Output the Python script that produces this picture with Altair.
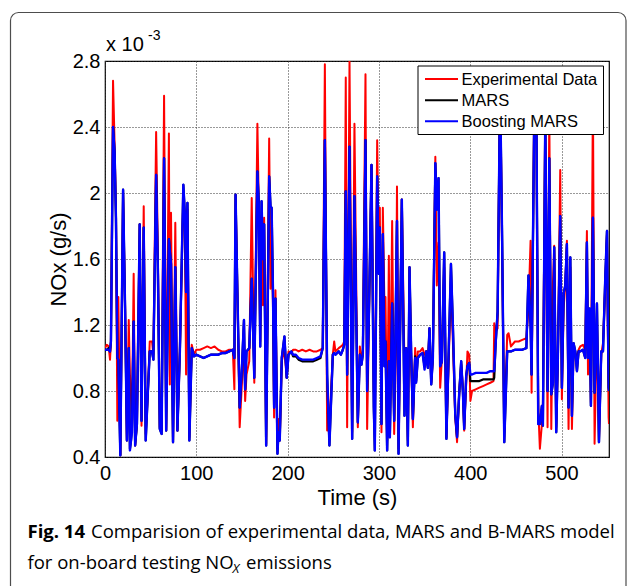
import altair as alt
import pandas as pd

# ---------------- data (NOx in units of 1e-3 g/s) ----------------
time_s = [0, 2, 4, 5.5, 6.5, 8.8, 10.5, 12, 13.5, 14.6, 16.8, 19.8, 22, 24, 26, 27.3, 28.5, 29.5, 31.4, 33,
          35, 38, 40, 42.4, 44.6, 47, 49, 51.5, 53, 56, 58, 60, 62, 64.7, 67, 70, 71, 72.3, 74.5, 77,
          79.3, 82, 85.8, 87.5, 88.8, 90.3, 92.4, 95, 97.5, 100, 104, 108, 112, 116, 120, 124, 128, 132, 136, 140,
          141.7, 143, 145, 147.5, 150, 152.2, 153.5, 155, 158, 160.7, 163.5, 166.9, 168.5, 170, 171.5, 173, 174.3, 176.5, 179.8, 181.3,
          182.5, 184, 185.2, 186.7, 188.9, 190, 191.4, 193.6, 196.5, 199, 201, 204, 206, 209, 212, 216, 220, 224, 228, 232,
          236, 238.5, 240.8, 243.3, 245.8, 249.5, 251, 252.4, 256, 258.3, 260.5, 262, 263.7, 265.2, 267.8, 270.7, 273.2, 276.9, 279.1, 280.9,
          282.4, 285.3, 287.1, 289, 291.9, 294.4, 295.5, 298.1, 299.9, 301, 302.8, 304.3, 306.1, 307.2, 309, 310.9, 312, 314.5, 316.7, 318.5,
          319.8, 321.5, 325.1, 328, 329.9, 331.7, 333.5, 335.3, 337.2, 339.7, 340.8, 342.6, 345.2, 347.8, 350, 351.8, 353.6, 355.4, 357.3, 359.1,
          361.8, 363.4, 365.3, 367.1, 369, 371.5, 373.9, 376, 378.9, 381, 383.6, 385.6, 388, 390.1, 392, 393.4, 395.6, 397, 398.9, 400.2,
          402, 406, 410, 414, 418, 422, 425.5, 426.3, 428, 430, 432.7, 435, 437.3, 440.5, 442, 444.6, 449, 453, 457, 461.5,
          463.8, 466.1, 467.2, 470, 472.3, 474.5, 476.3, 478.5, 479.6, 482.2, 484.7, 486.6, 488.8, 490.6, 492, 494.2, 496, 498.6, 500.4, 502.3,
          504.1, 505.9, 507.7, 509.6, 511.4, 513.2, 515.1, 516.9, 518.7, 520.5, 523.5, 526, 527.8, 529, 530.8, 532.2, 534.4, 536.2, 538.8, 541,
          543.5, 545.4, 548, 549.8, 551.6, 552]

experimental = [1.06, 1.08, 1.07, 0.99, 1.10, 2.68, 2.30, 1.90, 0.62, 1.37, 0.41, 2.00, 1.30, 0.50, 1.23, 0.90, 0.77, 0.60, 1.51, 0.47,
                0.60, 1.81, 0.59, 1.92, 0.54, 0.80, 1.10, 1.10, 1.02, 2.37, 1.60, 0.58, 0.56, 2.59, 0.56, 2.36, 0.84, 1.88, 0.49, 1.82,
                0.56, 1.04, 1.98, 1.80, 0.90, 1.90, 0.52, 1.08, 1.02, 1.05, 1.05, 1.06, 1.07, 1.06, 1.07, 1.05, 1.04, 1.04, 1.05, 1.05,
                0.81, 1.99, 1.40, 0.58, 0.85, 1.10, 0.74, 0.90, 0.98, 1.97, 0.85, 2.42, 1.90, 1.10, 1.86, 1.32, 1.85, 0.48, 2.33, 1.42,
                1.75, 1.30, 0.64, 1.41, 0.45, 0.63, 0.50, 0.98, 1.05, 0.88, 1.04, 1.03, 1.05, 1.05, 1.04, 1.05, 1.04, 1.05, 1.04, 1.04,
                1.05, 1.06, 2.78, 0.56, 0.60, 1.02, 1.10, 1.04, 1.06, 1.07, 1.08, 1.10, 2.70, 0.58, 2.80, 0.55, 2.42, 0.58, 1.07, 0.98,
                1.05, 2.72, 0.57, 1.20, 2.17, 0.82, 0.60, 2.32, 1.55, 1.91, 0.55, 1.91, 1.30, 1.37, 0.50, 1.62, 0.60, 1.83, 0.54, 1.00,
                2.04, 0.45, 1.96, 0.95, 1.06, 0.50, 1.55, 1.00, 0.58, 1.06, 0.88, 1.04, 1.04, 1.06, 1.02, 1.04, 0.95, 1.18, 0.85, 1.00,
                2.22, 1.44, 1.70, 0.82, 1.00, 1.55, 0.52, 0.90, 1.45, 1.10, 0.64, 0.49, 0.80, 0.96, 0.82, 0.56, 0.85, 1.04, 1.02, 0.74,
                0.80, 0.81, 0.82, 0.83, 0.84, 0.85, 0.86, 1.21, 1.16, 1.18, 2.75, 1.60, 0.55, 1.14, 1.15, 1.07, 1.10, 1.10, 1.11, 1.12,
                1.30, 1.71, 0.79, 2.50, 2.60, 0.70, 0.45, 0.60, 0.72, 2.50, 0.58, 2.50, 0.57, 1.45, 1.68, 0.58, 1.00, 2.14, 0.75, 1.30,
                1.44, 1.71, 0.57, 1.55, 0.57, 1.05, 1.03, 1.00, 1.05, 1.07, 1.08, 1.05, 1.77, 0.90, 1.20, 0.73, 2.60, 0.48, 1.20, 0.50,
                1.02, 1.09, 1.45, 1.75, 0.64, 0.60]

mars = [1.05, 1.05, 1.06, 1.04, 1.10, 2.40, 2.25, 1.85, 1.00, 0.99, 0.41, 2.02, 1.30, 0.50, 1.06, 0.45, 0.50, 0.58, 1.22, 0.47,
        0.60, 1.81, 0.62, 1.79, 0.50, 0.80, 1.04, 1.04, 0.99, 2.11, 1.50, 0.57, 0.54, 2.21, 0.56, 1.72, 1.65, 1.57, 0.49, 1.55,
        0.56, 1.04, 2.05, 1.87, 1.40, 1.94, 0.50, 1.06, 1.01, 1.02, 1.01, 1.00, 1.01, 1.02, 1.02, 1.02, 1.03, 1.03, 1.04, 1.05,
        1.00, 1.99, 1.40, 0.70, 0.95, 1.23, 0.81, 1.04, 1.06, 1.48, 0.88, 2.13, 1.93, 1.07, 1.95, 1.60, 1.81, 0.47, 2.10, 1.92,
        1.91, 1.40, 0.70, 1.36, 0.42, 0.55, 0.50, 1.00, 1.13, 0.88, 1.02, 1.04, 1.01, 1.01, 0.99, 0.98, 0.98, 0.98, 0.98, 0.99,
        1.00, 1.06, 2.32, 0.90, 0.47, 1.02, 1.03, 1.02, 1.04, 1.02, 1.05, 1.08, 2.01, 0.90, 2.28, 0.51, 1.98, 0.61, 1.02, 0.96,
        1.02, 2.32, 0.80, 1.25, 2.17, 0.70, 0.44, 2.10, 1.51, 1.79, 0.60, 1.75, 0.95, 1.10, 0.44, 0.98, 0.52, 1.33, 0.62, 1.30,
        1.83, 0.42, 1.96, 0.65, 1.06, 0.47, 1.55, 1.04, 0.63, 1.01, 0.86, 1.00, 1.02, 1.03, 0.95, 1.04, 0.94, 1.18, 0.84, 1.00,
        2.18, 1.90, 2.09, 0.95, 0.98, 1.64, 0.51, 0.95, 1.57, 1.20, 0.66, 0.52, 0.79, 0.98, 0.79, 0.57, 0.89, 0.95, 0.97, 0.86,
        0.86, 0.86, 0.86, 0.87, 0.87, 0.87, 0.87, 0.88, 1.10, 1.28, 2.66, 1.70, 0.49, 1.04, 1.04, 1.04, 1.05, 1.05, 1.05, 1.06,
        1.50, 1.20, 0.90, 2.40, 2.65, 0.60, 0.60, 0.71, 0.59, 2.45, 0.80, 2.21, 0.78, 0.85, 1.67, 0.55, 1.00, 1.86, 0.82, 1.39,
        1.44, 1.69, 0.70, 1.61, 0.65, 1.09, 1.04, 0.92, 1.04, 1.04, 1.05, 1.00, 1.70, 1.00, 1.30, 0.71, 1.85, 0.79, 1.33, 0.49,
        1.04, 1.04, 1.50, 1.77, 0.82, 0.80]

boosting_mars = [1.05, 1.05, 1.05, 1.04, 1.10, 2.40, 2.25, 1.85, 1.00, 0.99, 0.41, 2.02, 1.30, 0.50, 1.06, 0.44, 0.50, 0.55, 1.22, 0.47,
                 0.60, 1.81, 0.62, 1.79, 0.50, 0.80, 1.04, 1.04, 0.99, 2.11, 1.50, 0.57, 0.54, 2.21, 0.56, 1.72, 1.65, 1.57, 0.49, 1.55,
                 0.56, 1.04, 2.05, 1.87, 1.40, 1.94, 0.50, 1.06, 1.01, 1.02, 1.01, 1.00, 1.01, 1.02, 1.02, 1.02, 1.03, 1.03, 1.04, 1.05,
                 1.00, 1.99, 1.40, 0.70, 0.95, 1.23, 0.81, 1.04, 1.06, 1.48, 0.88, 2.13, 1.93, 1.07, 1.95, 1.60, 1.81, 0.47, 2.10, 1.92,
                 1.91, 1.40, 0.70, 1.36, 0.42, 0.55, 0.50, 1.00, 1.13, 0.88, 1.02, 1.04, 1.02, 1.02, 1.00, 0.99, 0.99, 0.99, 0.99, 1.00,
                 1.01, 1.06, 2.32, 0.90, 0.47, 1.02, 1.03, 1.02, 1.04, 1.02, 1.05, 1.08, 2.01, 0.90, 2.28, 0.51, 1.98, 0.61, 1.02, 0.96,
                 1.02, 2.32, 0.80, 1.25, 2.17, 0.70, 0.44, 2.10, 1.51, 1.79, 0.60, 1.75, 0.95, 1.10, 0.44, 0.98, 0.52, 1.33, 0.62, 1.30,
                 1.83, 0.42, 1.96, 0.65, 1.06, 0.47, 1.55, 1.04, 0.63, 1.00, 0.85, 1.00, 1.02, 1.03, 0.93, 1.04, 0.94, 1.18, 0.84, 1.00,
                 2.18, 1.90, 2.09, 0.95, 0.98, 1.64, 0.51, 0.95, 1.57, 1.20, 0.66, 0.52, 0.79, 0.98, 0.79, 0.57, 0.89, 0.95, 0.97, 0.90,
                 0.90, 0.91, 0.91, 0.91, 0.91, 0.92, 0.92, 0.92, 1.10, 1.28, 2.66, 1.70, 0.49, 1.04, 1.04, 1.04, 1.05, 1.05, 1.05, 1.06,
                 1.50, 1.20, 0.90, 2.40, 2.65, 0.60, 0.60, 0.71, 0.59, 2.45, 0.80, 2.21, 0.78, 0.85, 1.67, 0.55, 1.00, 1.86, 0.82, 1.39,
                 1.44, 1.69, 0.70, 1.61, 0.65, 1.09, 1.04, 0.92, 1.04, 1.04, 1.05, 1.00, 1.70, 1.00, 1.30, 0.71, 1.85, 0.79, 1.33, 0.49,
                 1.04, 1.04, 1.50, 1.77, 0.82, 0.80]

series_names = ["Experimental Data", "MARS", "Boosting MARS"]
series_colors = ["#ff0000", "#000000", "#0000ff"]
x_ticks = [0, 100, 200, 300, 400, 500]
y_ticks = [0.4, 0.8, 1.2, 1.6, 2.0, 2.4, 2.8]
x_domain = [0, 552]
y_domain = [0.4, 2.8]

df = pd.DataFrame({"t": time_s, "exp": experimental, "mars": mars, "bm": boosting_mars})
one = pd.DataFrame({"k": [0]})

# ---------------- layout (pixels) ----------------
PL, PT, W, H = 105, 61, 504, 396
TOTAL_W, TOTAL_H = 636, 586
AX_FONT = "Liberation Sans"
CAP_FONT = "Open Sans"

x_axis = alt.Axis(values=x_ticks, title="Time (s)", labelFont=AX_FONT, labelFontSize=20, labelColor="black",
                  labelPadding=6, ticks=False, domain=False, grid=True, gridDash=[1, 2], gridColor="#333333",
                  gridWidth=1, titleFont=AX_FONT, titleFontSize=22, titleFontWeight="normal", titleColor="black",
                  titleX=W / 2, titleY=40, titleBaseline="middle", titleAlign="center", labelFlush=False)
y_axis = alt.Axis(values=y_ticks, title="NOx (g/s)", format=".1~f", labelFont=AX_FONT, labelFontSize=20,
                  labelColor="black", labelPadding=5, ticks=False, domain=False, grid=True, gridDash=[1, 2],
                  gridColor="#333333", gridWidth=1, titleFont=AX_FONT, titleFontSize=22, titleFontWeight="normal",
                  titleColor="black", titleX=-47, titleY=H / 2, titleAngle=-90, titleBaseline="middle",
                  titleAlign="center", labelFlush=False)

xs = alt.Scale(domain=x_domain, nice=False, zero=False)
ys = alt.Scale(domain=y_domain, nice=False, zero=False)


def series(col, color, width):
    return alt.Chart(df).mark_line(color=color, strokeWidth=width, clip=True, strokeJoin="round").encode(
        x=alt.X("t:Q", scale=xs, axis=x_axis),
        y=alt.Y(f"{col}:Q", scale=ys, axis=y_axis),
    )


lines = [series("exp", series_colors[0], 2.0), series("mars", series_colors[1], 2.2),
         series("bm", series_colors[2], 2.4)]


def text_at(txt, x, y, size, font=AX_FONT, weight="normal", style="normal", align="left", baseline="middle"):
    return alt.Chart(one).mark_text(text=txt, font=font, fontSize=size, fontWeight=weight, fontStyle=style,
                                    align=align, baseline=baseline, color="black").encode(
        x=alt.value(x), y=alt.value(y))


# outer rounded frame
frame = alt.Chart(one).mark_rect(fillOpacity=0, stroke="#4d4d4d", strokeWidth=1.2, cornerRadius=8).encode(
    x=alt.value(10.5 - PL), x2=alt.value(626 - PL), y=alt.value(12.5 - PT), y2=alt.value(TOTAL_H + 40 - PT))

# legend (drawn manually, on top of lines)
lg_x0, lg_x1, lg_y0, lg_y1 = 418 - PL, 603.5 - PL, 66 - PT, 134.5 - PT
legend_box = alt.Chart(one).mark_rect(fill="white", stroke="black", strokeWidth=1).encode(
    x=alt.value(lg_x0), x2=alt.value(lg_x1), y=alt.value(lg_y0), y2=alt.value(lg_y1))
legend_layers = [legend_box]
row_y = [79 - PT, 100.3 - PT, 121.3 - PT]
for name, col, ry in zip(series_names, series_colors, row_y):
    legend_layers.append(alt.Chart(one).mark_rule(color=col, strokeWidth=2).encode(
        x=alt.value(425 - PL), x2=alt.value(458 - PL), y=alt.value(ry)))
    legend_layers.append(text_at(name, 461.5 - PL, ry + 0.5, 16.5))

# exponent label
exp_layers = [text_at("x 10", 106 - PL, 45 - PT, 20), text_at("-3", 148 - PL, 36 - PT, 14)]

# caption
CAP = 18.5
cap_layers = [
    text_at("Fig. 14", 27.5 - PL, 532 - PT, CAP, font=CAP_FONT, weight="bold"),
    text_at("Comparision of experimental data, MARS and B-MARS model", 91 - PL, 532 - PT, CAP, font=CAP_FONT),
    text_at("for on-board testing NO", 27.5 - PL, 563 - PT, CAP, font=CAP_FONT),
    text_at("X", 232.5 - PL, 568.5 - PT, 13, font=CAP_FONT, style="italic"),
    text_at("emissions", 246 - PL, 563 - PT, CAP, font=CAP_FONT),
]

chart = alt.layer(frame, *lines, *legend_layers, *exp_layers, *cap_layers).properties(
    width=W, height=H,
    autosize=alt.AutoSizeParams(type="none"),
    padding={"left": PL, "top": PT, "right": TOTAL_W - PL - W, "bottom": TOTAL_H - PT - H},
    background="white",
).configure_view(stroke="black", strokeWidth=1.2)

chart.save("out.html", embed_options={"renderer": "svg", "actions": False})
